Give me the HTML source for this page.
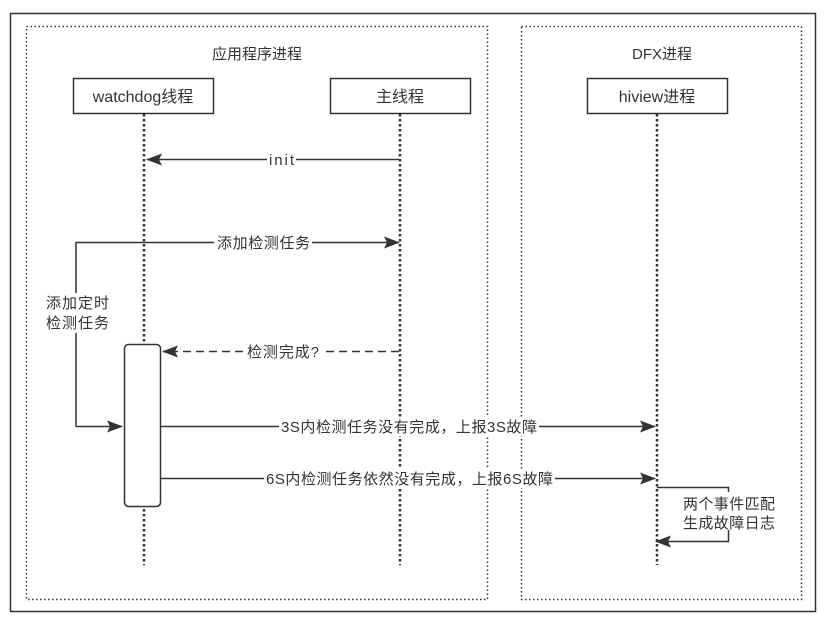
<!DOCTYPE html>
<html><head><meta charset="utf-8"><style>
html,body{margin:0;padding:0;background:#fff;}
svg{display:block;}
text{font-family:"Liberation Sans","Noto Sans CJK SC",sans-serif;font-size:15px;fill:#333;}
</style></head><body>
<svg width="829" height="625" viewBox="0 0 829 625" xmlns="http://www.w3.org/2000/svg">
<defs>
<marker id="a" markerWidth="16" markerHeight="12" refX="15" refY="6" orient="auto" markerUnits="userSpaceOnUse">
<path d="M0,0 L16,6 L0,12 L3,6 Z" fill="#333"/>
</marker>
</defs>
<rect x="10.5" y="13.5" width="805" height="598" fill="#fff" stroke="#333" stroke-width="1.5"/>
<rect x="26.5" y="26.5" width="461" height="573" fill="none" stroke="#333" stroke-width="1.5" stroke-dasharray="1.5,2.5"/>
<rect x="521.5" y="26.5" width="280" height="573" fill="none" stroke="#333" stroke-width="1.5" stroke-dasharray="1.5,2.5"/>
<text x="257" y="59" text-anchor="middle">应用程序进程</text>
<text x="662" y="59" text-anchor="middle">DFX进程</text>

<g stroke="#333" stroke-width="2.5" stroke-dasharray="2.5,2.5">
<line x1="144" y1="114" x2="144" y2="565"/>
<line x1="400" y1="114" x2="400" y2="565"/>
<line x1="657" y1="114" x2="657" y2="565"/>
</g>
<g fill="#fff" stroke="#333" stroke-width="1.5">
<rect x="73.5" y="78.5" width="140" height="35"/>
<rect x="330.5" y="78.5" width="140" height="35"/>
<rect x="587.5" y="78.5" width="140" height="35"/>
</g>
<text x="143" y="102" text-anchor="middle" style="font-size:16px">watchdog线程</text>
<text x="400" y="102" text-anchor="middle" style="font-size:16px">主线程</text>
<text x="657" y="102" text-anchor="middle" style="font-size:16px">hiview进程</text>

<g stroke="#333" stroke-width="1.5" fill="none">
<line x1="399" y1="159.5" x2="147" y2="159.5" marker-end="url(#a)"/>
<polyline points="76,426.5 76,242.5 399,242.5" marker-end="url(#a)"/>
<line x1="76" y1="426.5" x2="122" y2="426.5" marker-end="url(#a)"/>
<line x1="399" y1="351.5" x2="163" y2="351.5" stroke-dasharray="8,5" marker-end="url(#a)"/>
<line x1="161" y1="426.5" x2="655" y2="426.5" marker-end="url(#a)"/>
<line x1="161" y1="478.5" x2="655" y2="478.5" marker-end="url(#a)"/>
<polyline points="657,487.5 728.5,487.5 728.5,541.5 656,541.5" marker-end="url(#a)"/>
</g>
<rect x="124.5" y="344.5" width="36" height="162" rx="4" fill="#fff" stroke="#333" stroke-width="1.5"/>

<g>
<rect x="267" y="150" width="29" height="19" fill="#fff"/>
<text x="269" y="165" textLength="25">init</text>
<rect x="214" y="233" width="98" height="19" fill="#fff"/>
<text x="217" y="248" textLength="93">添加检测任务</text>
<rect x="44" y="293" width="68" height="40" fill="#fff"/>
<text x="46" y="308" textLength="63">添加定时</text>
<text x="46" y="328" textLength="63">检测任务</text>
<rect x="244" y="342" width="82" height="19" fill="#fff"/>
<text x="247" y="357" textLength="72">检测完成?</text>
<rect x="279" y="417" width="260" height="19" fill="#fff"/>
<text x="281" y="432" textLength="256">3S内检测任务没有完成，上报3S故障</text>
<rect x="264" y="469" width="291" height="19" fill="#fff"/>
<text x="266" y="484" textLength="287">6S内检测任务依然没有完成，上报6S故障</text>
<rect x="680" y="492" width="98" height="38" fill="#fff"/>
<text x="683" y="509" textLength="92">两个事件匹配</text>
<text x="683" y="528" textLength="92">生成故障日志</text>
</g>
</svg>
</body></html>
